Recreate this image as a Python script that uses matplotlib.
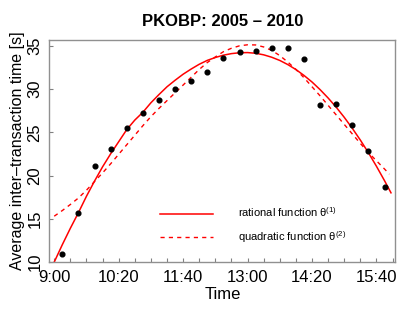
import matplotlib
matplotlib.use("Agg")
import matplotlib.pyplot as plt
from matplotlib.ticker import FixedLocator, FixedFormatter, MultipleLocator

plt.rcParams['font.family'] = ['Liberation Sans', 'DejaVu Sans']
plt.rcParams['mathtext.fontset'] = 'custom'
plt.rcParams['mathtext.rm'] = 'Liberation Sans'
plt.rcParams['mathtext.it'] = 'Liberation Sans'

# observed averages, 20-minute bins (minutes after 9:00)
point_minutes = [10, 30, 50, 70, 90, 110, 130, 150, 170, 190, 210,
                 230, 250, 270, 290, 310, 330, 350, 370, 390, 410]
point_values = [10.96, 15.66, 21.13, 23.06, 25.53, 27.26, 28.73, 30.0, 30.92, 31.93, 33.62,
                34.31, 34.43, 34.74, 34.70, 33.47, 28.11, 28.30, 25.84, 22.80, 18.67]

# fitted curves, every 10 minutes
rational_minutes = list(range(0, 420, 10)) + [418]
rational_values = [10.0, 12.0, 13.9, 15.7, 17.6, 19.35, 21.0, 22.5, 23.9, 25.3,
                   26.4, 27.3, 28.4, 29.35, 30.25, 31.0, 31.7, 32.3, 32.85, 33.3,
                   33.63, 33.9, 34.08, 34.18, 34.2, 34.12, 33.94, 33.66, 33.29, 32.81,
                   32.24, 31.56, 30.8, 29.92, 28.95, 27.89, 26.72, 25.45, 24.09, 22.63,
                   21.06, 19.4, 18.0]
quadratic_minutes = list(range(0, 420, 10)) + [416]
quadratic_values = [15.3, 15.95, 16.65, 17.4, 18.3, 19.3, 20.3, 21.35, 22.45, 23.55,
                    24.65, 25.75, 26.8, 27.75, 28.65, 29.55, 30.45, 31.35, 32.25, 33.05,
                    33.7, 34.3, 34.7, 34.98, 35.1, 35.08, 34.85, 34.45, 33.85, 33.1,
                    32.25, 31.3, 30.25, 29.2, 28.1, 27.0, 25.9, 24.8, 23.7, 22.65,
                    21.7, 20.75, 20.15]

tick_labels = ["9:00", "10:20", "11:40", "13:00", "14:20", "15:40"]


def to_hours(minutes):
    return [9 + m / 60 for m in minutes]


fig = plt.figure(figsize=(4.15, 3.12), dpi=100)
ax = fig.add_axes([0.119, 0.160, 0.834, 0.712])

ax.plot(to_hours(rational_minutes), rational_values, color='#ff0000', lw=1.1,
        label=r'rational function θ$^{(1)}$')
ax.plot(to_hours(quadratic_minutes), quadratic_values, color='#ff0000', lw=1.0,
        ls=(0, (3, 3)), label=r'quadratic function θ$^{(2)}$')
ax.plot(to_hours(point_minutes), point_values, 'o', color='black', ms=3.4, ls='none')

ax.set_xlim(8.9, 16.06)
ax.set_ylim(10, 35.66)

major = [9 + i * 4 / 3 for i in range(len(tick_labels))]
ax.xaxis.set_major_locator(FixedLocator(major))
ax.xaxis.set_major_formatter(FixedFormatter(tick_labels))
ax.xaxis.set_minor_locator(MultipleLocator(1 / 3))
ax.set_yticks([10, 15, 20, 25, 30, 35])

ax.tick_params(axis='both', which='both', direction='in', length=3, width=0.8,
               color='#808080', labelsize=12)
ax.tick_params(axis='x', pad=6)
ax.tick_params(axis='y', pad=5)
for lab in ax.get_yticklabels():
    lab.set_rotation(90)
    lab.set_va('center')

for sp in ax.spines.values():
    sp.set_color('#909090')
    sp.set_linewidth(1.0)

ax.set_xlabel('Time', fontsize=12, labelpad=1)
ax.set_ylabel('Average inter\u2013transaction time [s]', fontsize=11.5, labelpad=2)
ax.set_title('PKOBP: 2005 \u2013 2010', fontsize=12, fontweight='bold', pad=10)

ax.legend(loc='center left', bbox_to_anchor=(0.32, 0.165), frameon=False,
          fontsize=8, handlelength=4.8, handletextpad=2.2, labelspacing=0.9,
          borderpad=0, borderaxespad=0)

fig.savefig('out.png', dpi=100)
